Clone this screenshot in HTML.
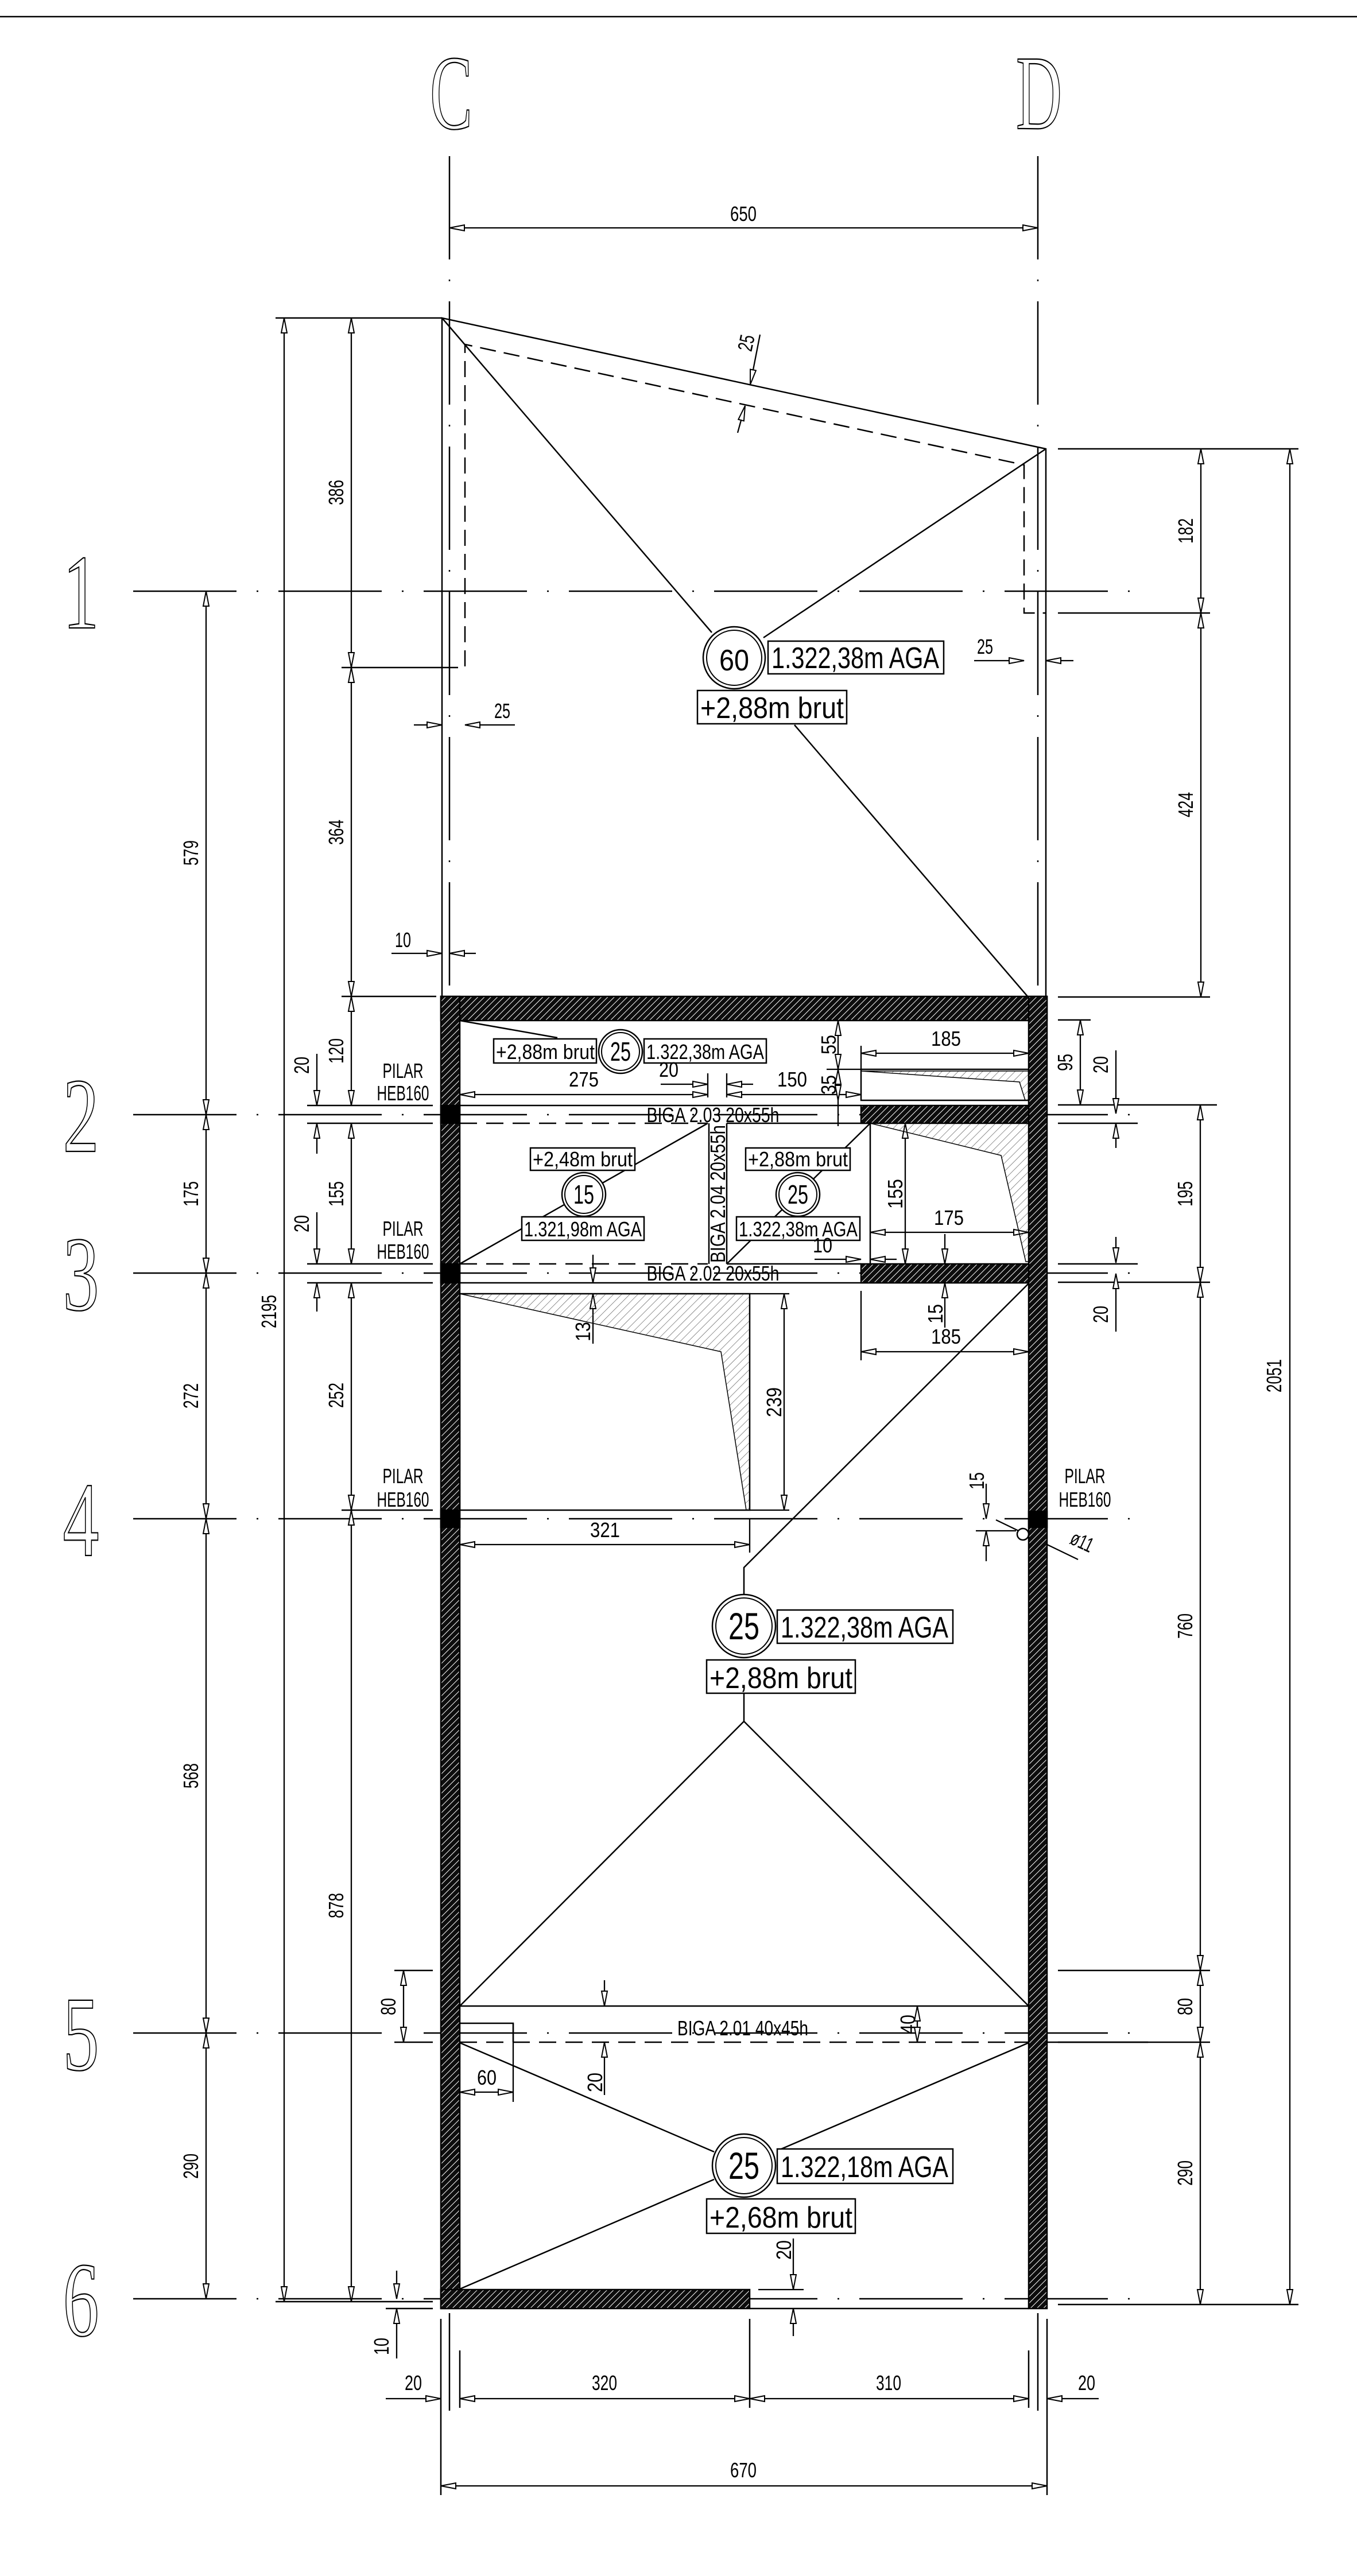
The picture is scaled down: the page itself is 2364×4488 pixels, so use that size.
<!DOCTYPE html>
<html><head><meta charset="utf-8"><style>
html,body{margin:0;padding:0;background:#fff}
svg{display:block}
text{font-family:"Liberation Sans",sans-serif;fill:#000}
.d{font-size:36px}
.s{font-size:34px}
.b{font-size:52px}
.m{font-size:36px}
.ax{font-family:"Liberation Serif",serif;font-size:185px;fill:#fff;stroke:#000;stroke-width:2.2}
</style></head><body>
<svg width="2364" height="4488" viewBox="0 0 2364 4488" xmlns="http://www.w3.org/2000/svg">
<defs>
<marker id="a" viewBox="-30 -8 32 16" refX="0" refY="0" markerWidth="32" markerHeight="16" markerUnits="userSpaceOnUse" orient="auto-start-reverse"><path d="M0,0 L-26,-5 L-26,5 Z" fill="#fff" stroke="#000" stroke-width="2"/></marker>
<pattern id="hd" width="8" height="8" patternUnits="userSpaceOnUse" patternTransform="rotate(45)"><rect width="8" height="8" fill="#0d0d0d"/><line x1="1" y1="0" x2="1" y2="8" stroke="#fff" stroke-width="1"/></pattern>
<pattern id="hl" width="10" height="10" patternUnits="userSpaceOnUse" patternTransform="rotate(45)"><line x1="0" y1="0" x2="0" y2="10" stroke="#555" stroke-width="1.3"/></pattern>
</defs>
<rect width="2364" height="4488" fill="#fff"/>
<line x1="0" y1="29" x2="2364" y2="29" stroke="#000" stroke-width="2.5"/>

<text class="ax" text-anchor="middle" transform="translate(786,224) scale(0.6,1)">C</text>
<text class="ax" text-anchor="middle" transform="translate(1810,224) scale(0.6,1)">D</text>
<text class="ax" text-anchor="middle" transform="translate(141,1094) scale(0.68,1)">1</text>
<text class="ax" text-anchor="middle" transform="translate(141,2006) scale(0.68,1)">2</text>
<text class="ax" text-anchor="middle" transform="translate(141,2282) scale(0.68,1)">3</text>
<text class="ax" text-anchor="middle" transform="translate(141,2710) scale(0.68,1)">4</text>
<text class="ax" text-anchor="middle" transform="translate(141,3606) scale(0.68,1)">5</text>
<text class="ax" text-anchor="middle" transform="translate(141,4069) scale(0.68,1)">6</text>

<g stroke="#000" stroke-width="2.5" stroke-dasharray="180 35 3 35" fill="none">
<line x1="232" y1="1030" x2="1990" y2="1030"/>
<line x1="232" y1="1942" x2="1990" y2="1942"/>
<line x1="232" y1="2218" x2="1990" y2="2218"/>
<line x1="232" y1="2646" x2="1990" y2="2646"/>
<line x1="232" y1="3542" x2="1990" y2="3542"/>
<line x1="232" y1="4005" x2="1990" y2="4005"/>
<line x1="783" y1="272" x2="783" y2="1736"/>
<line x1="1808" y1="272" x2="1808" y2="1736"/>
<line x1="783" y1="4030" x2="783" y2="4200"/>
<line x1="1808" y1="4030" x2="1808" y2="4200"/>
</g>

<g stroke="#000" stroke-width="2.5" fill="none">
<polyline points="770,1736 770,554 1822,782 1822,1736"/>
<polyline points="770,1163 810,1163 810,600 1784,810 1784,1068 1822,1068" stroke-dasharray="28 14"/>
<line x1="770" y1="554" x2="1240" y2="1102"/>
<line x1="1822" y1="782" x2="1330" y2="1111"/>
<line x1="1384" y1="1263" x2="1791" y2="1737"/>

<line x1="480" y1="554" x2="770" y2="554"/>
<line x1="595" y1="1163" x2="770" y2="1163"/>
<line x1="595" y1="1736" x2="760" y2="1736"/>
<line x1="535" y1="1926" x2="754" y2="1926"/>
<line x1="535" y1="1957" x2="754" y2="1957"/>
<line x1="535" y1="2202" x2="754" y2="2202"/>
<line x1="535" y1="2235" x2="754" y2="2235"/>
<line x1="595" y1="2631" x2="754" y2="2631"/>
<line x1="480" y1="4010" x2="754" y2="4010"/>
<line x1="687" y1="3433" x2="754" y2="3433"/>
<line x1="687" y1="3558" x2="754" y2="3558"/>
<line x1="672" y1="4022" x2="754" y2="4022"/>
<line x1="1843" y1="782" x2="2262" y2="782"/>
<line x1="1843" y1="1068" x2="2108" y2="1068"/>
<line x1="1843" y1="1737" x2="2108" y2="1737"/>
<line x1="1843" y1="1777" x2="1900" y2="1777"/>
<line x1="1843" y1="1925" x2="2120" y2="1925"/>
<line x1="1843" y1="1957" x2="1982" y2="1957"/>
<line x1="1843" y1="2202" x2="1982" y2="2202"/>
<line x1="1843" y1="2234" x2="2108" y2="2234"/>
<line x1="1843" y1="3433" x2="2108" y2="3433"/>
<line x1="1843" y1="3558" x2="2108" y2="3558"/>
<line x1="1843" y1="4015" x2="2262" y2="4015"/>
<line x1="768" y1="4040" x2="768" y2="4347"/>
<line x1="801" y1="4095" x2="801" y2="4195"/>
<line x1="1306" y1="4040" x2="1306" y2="4195"/>
<line x1="1792" y1="4095" x2="1792" y2="4195"/>
<line x1="1824" y1="4040" x2="1824" y2="4347"/>
</g>

<g stroke="#000" stroke-width="2.3" fill="none" marker-start="url(#a)" marker-end="url(#a)">
<line x1="783" y1="397" x2="1808" y2="397"/>
<line x1="359" y1="1030" x2="359" y2="1942"/>
<line x1="359" y1="1942" x2="359" y2="2218"/>
<line x1="359" y1="2218" x2="359" y2="2646"/>
<line x1="359" y1="2646" x2="359" y2="3542"/>
<line x1="359" y1="3542" x2="359" y2="4005"/>
<line x1="495" y1="554" x2="495" y2="4010"/>
<line x1="612" y1="554" x2="612" y2="1163"/>
<line x1="612" y1="1163" x2="612" y2="1736"/>
<line x1="612" y1="1736" x2="612" y2="1926"/>
<line x1="612" y1="1957" x2="612" y2="2202"/>
<line x1="612" y1="2235" x2="612" y2="2631"/>
<line x1="612" y1="2631" x2="612" y2="4010"/>
<line x1="703" y1="3433" x2="703" y2="3558"/>
<line x1="2092" y1="782" x2="2092" y2="1068"/>
<line x1="2092" y1="1068" x2="2092" y2="1737"/>
<line x1="1882" y1="1777" x2="1882" y2="1925"/>
<line x1="2091" y1="1925" x2="2091" y2="2234"/>
<line x1="2091" y1="2234" x2="2091" y2="3433"/>
<line x1="2091" y1="3433" x2="2091" y2="3558"/>
<line x1="2091" y1="3558" x2="2091" y2="4015"/>
<line x1="2247" y1="782" x2="2247" y2="4015"/>
<line x1="801" y1="4179" x2="1306" y2="4179"/>
<line x1="1306" y1="4179" x2="1792" y2="4179"/>
<line x1="768" y1="4331" x2="1824" y2="4331"/>
<line x1="801" y1="1907" x2="1233" y2="1907"/>
<line x1="1266" y1="1907" x2="1500" y2="1907"/>
<line x1="1460" y1="1778" x2="1460" y2="1863"/>
<line x1="1460" y1="1863" x2="1460" y2="1917"/>
<line x1="1500" y1="1835" x2="1792" y2="1835"/>
<line x1="1577" y1="1957" x2="1577" y2="2202"/>
<line x1="1516" y1="2147" x2="1792" y2="2147"/>
<line x1="1500" y1="2355" x2="1792" y2="2355"/>
<line x1="1366" y1="2254" x2="1366" y2="2631"/>
<line x1="801" y1="2691" x2="1306" y2="2691"/>
<line x1="801" y1="3645" x2="894" y2="3645"/>
<line x1="1598" y1="3495" x2="1598" y2="3558"/>
</g>
<g stroke="#000" stroke-width="2.3" fill="none" marker-end="url(#a)">
<line x1="552" y1="1836" x2="552" y2="1926"/>
<line x1="552" y1="2010" x2="552" y2="1957"/>
<line x1="552" y1="2112" x2="552" y2="2202"/>
<line x1="552" y1="2285" x2="552" y2="2235"/>
<line x1="691" y1="3956" x2="691" y2="4005"/>
<line x1="691" y1="4109" x2="691" y2="4022"/>
<line x1="1944" y1="1830" x2="1944" y2="1940"/>
<line x1="1944" y1="2000" x2="1944" y2="1957"/>
<line x1="1944" y1="2155" x2="1944" y2="2200"/>
<line x1="1944" y1="2320" x2="1944" y2="2219"/>
<line x1="672" y1="4179" x2="768" y2="4179"/>
<line x1="1914" y1="4179" x2="1824" y2="4179"/>
<line x1="721" y1="1263" x2="770" y2="1263"/>
<line x1="897" y1="1263" x2="810" y2="1263"/>
<line x1="1697" y1="1151" x2="1784" y2="1151"/>
<line x1="1870" y1="1151" x2="1822" y2="1151"/>
<line x1="682" y1="1661" x2="770" y2="1661"/>
<line x1="829" y1="1661" x2="783" y2="1661"/>
<line x1="1324" y1="583" x2="1307" y2="670"/>
<line x1="1285" y1="754" x2="1298" y2="707"/>
<line x1="1151" y1="1889" x2="1233" y2="1889"/>
<line x1="1312" y1="1889" x2="1266" y2="1889"/>
<line x1="1419" y1="2194" x2="1500" y2="2194"/>
<line x1="1562" y1="2194" x2="1516" y2="2194"/>
<line x1="1646" y1="2150" x2="1646" y2="2202"/>
<line x1="1646" y1="2313" x2="1646" y2="2235"/>
<line x1="1033" y1="2186" x2="1033" y2="2235"/>
<line x1="1033" y1="2341" x2="1033" y2="2254"/>
<line x1="1718" y1="2585" x2="1718" y2="2646"/>
<line x1="1718" y1="2720" x2="1718" y2="2667"/>
<line x1="1053" y1="3450" x2="1053" y2="3495"/>
<line x1="1053" y1="3650" x2="1053" y2="3558"/>
<line x1="1382" y1="3900" x2="1382" y2="3989"/>
<line x1="1382" y1="4070" x2="1382" y2="4022"/>
</g>
<g stroke="#000" stroke-width="2.3">
<line x1="1233" y1="1870" x2="1233" y2="1912"/>
<line x1="1266" y1="1870" x2="1266" y2="1912"/>
<line x1="1500" y1="1822" x2="1500" y2="1863"/>
<line x1="1440" y1="1863" x2="1500" y2="1863"/>
<line x1="1460" y1="1917" x2="1460" y2="1962"/>
<line x1="1500" y1="2249" x2="1500" y2="2370"/>
<line x1="1306" y1="2254" x2="1375" y2="2254"/>
<line x1="1306" y1="2631" x2="1375" y2="2631"/>
<line x1="1306" y1="2646" x2="1306" y2="2705"/>
<line x1="1700" y1="2667" x2="1770" y2="2667"/>
<line x1="894" y1="3525" x2="894" y2="3662"/>
<line x1="1321" y1="3989" x2="1400" y2="3989"/>
<line x1="1735" y1="2648" x2="1878" y2="2717"/>
</g>

<g stroke="#000" stroke-width="2.5" fill="none">
<line x1="801" y1="1926" x2="1500" y2="1926"/>
<line x1="801" y1="1957" x2="1233" y2="1957" stroke-dasharray="30 16"/>
<line x1="1266" y1="1957" x2="1516" y2="1957"/>
<line x1="801" y1="2202" x2="1233" y2="2202" stroke-dasharray="30 16"/>
<line x1="1266" y1="2202" x2="1500" y2="2202"/>
<line x1="801" y1="2235" x2="1792" y2="2235"/>
<line x1="1235" y1="1957" x2="1235" y2="2202"/>
<line x1="1266" y1="1957" x2="1266" y2="2202"/>
<line x1="1516" y1="1957" x2="1516" y2="2202"/>
<rect x="1500" y="1863" width="292" height="54"/>
<path d="M1500,1866 L1776,1885 L1786,1917 L1792,1917 L1792,1866 Z" fill="url(#hl)" stroke-width="1.5"/>
<path d="M1516,1957 L1744,2013 L1787,2198 L1792,2198 L1792,1957 Z" fill="url(#hl)" stroke-width="1.5"/>
<rect x="801" y="2254" width="505" height="377"/>
<path d="M801,2254 L1306,2254 L1306,2631 L1300,2631 L1256,2355 Z" fill="url(#hl)" stroke-width="1.5"/>
<line x1="801" y1="1778" x2="971" y2="1808"/>
<line x1="801" y1="2202" x2="1233" y2="1957"/>
<line x1="1266" y1="2202" x2="1516" y2="1957"/>
<polyline points="1792,2236 1296,2731 1296,2780"/>
<line x1="1296" y1="2950" x2="1296" y2="2999"/>
<polyline points="801,3495 1296,2999 1792,3495"/>
<line x1="801" y1="3495" x2="1792" y2="3495"/>
<line x1="801" y1="3558" x2="1792" y2="3558" stroke-dasharray="30 16"/>
<line x1="1792" y1="3558" x2="2000" y2="3558"/>
<polyline points="801,3525 894,3525 894,3558"/>
<line x1="801" y1="3559" x2="1244" y2="3749"/>
<line x1="1792" y1="3559" x2="1361" y2="3744"/>
<line x1="801" y1="3988" x2="1244" y2="3797"/>
<line x1="1306" y1="4022" x2="1792" y2="4022"/>
</g>

<g stroke="#000" stroke-width="2.5">
<rect x="768" y="1736" width="1056" height="42" fill="url(#hd)"/>
<rect x="768" y="1736" width="33" height="2286" fill="url(#hd)"/>
<rect x="1792" y="1736" width="32" height="2286" fill="url(#hd)"/>
<rect x="768" y="3989" width="538" height="33" fill="url(#hd)"/>
<rect x="1500" y="1926" width="292" height="31" fill="url(#hd)"/>
<rect x="1500" y="2202" width="292" height="33" fill="url(#hd)"/>
<rect x="768" y="1926" width="33" height="31" fill="#000"/>
<rect x="768" y="2202" width="33" height="33" fill="#000"/>
<rect x="768" y="2631" width="33" height="30" fill="#000"/>
<rect x="1792" y="2633" width="32" height="28" fill="#000"/>
</g>
<circle cx="1782" cy="2673" r="10" fill="#fff" stroke="#000" stroke-width="2.5"/>

<g stroke="#000" fill="#fff">
<circle cx="1279" cy="1146" r="54" stroke-width="2.5"/><circle cx="1279" cy="1146" r="48" stroke-width="2"/>
<rect x="1338" y="1117" width="306" height="57" stroke-width="2.5"/>
<rect x="1215" y="1203" width="260" height="58" stroke-width="2.5"/>
<circle cx="1081" cy="1832" r="38" stroke-width="2.5"/><circle cx="1081" cy="1832" r="33" stroke-width="2"/>
<rect x="860" y="1810" width="179" height="42" stroke-width="2.5"/>
<rect x="1122" y="1810" width="213" height="42" stroke-width="2.5"/>
<circle cx="1017" cy="2081" r="38" stroke-width="2.5"/><circle cx="1017" cy="2081" r="33" stroke-width="2"/>
<rect x="924" y="2000" width="182" height="39" stroke-width="2.5"/>
<rect x="909" y="2120" width="213" height="41" stroke-width="2.5"/>
<circle cx="1390" cy="2081" r="38" stroke-width="2.5"/><circle cx="1390" cy="2081" r="33" stroke-width="2"/>
<rect x="1299" y="2000" width="182" height="39" stroke-width="2.5"/>
<rect x="1283" y="2120" width="215" height="41" stroke-width="2.5"/>
<circle cx="1296" cy="2833" r="55" stroke-width="2.5"/><circle cx="1296" cy="2833" r="49" stroke-width="2"/>
<rect x="1354" y="2805" width="306" height="58" stroke-width="2.5"/>
<rect x="1231" y="2892" width="259" height="58" stroke-width="2.5"/>
<circle cx="1296" cy="3773" r="55" stroke-width="2.5"/><circle cx="1296" cy="3773" r="49" stroke-width="2"/>
<rect x="1354" y="3744" width="306" height="60" stroke-width="2.5"/>
<rect x="1231" y="3831" width="259" height="60" stroke-width="2.5"/>
</g>

<g>
<text class="b" x="1279" y="1168" text-anchor="middle" font-size="62" textLength="52" lengthAdjust="spacingAndGlyphs">60</text>
<text class="b" x="1344" y="1164" textLength="292" lengthAdjust="spacingAndGlyphs">1.322,38m AGA</text>
<text class="b" x="1220" y="1251" textLength="250" lengthAdjust="spacingAndGlyphs">+2,88m brut</text>
<text x="1081" y="1848" text-anchor="middle" font-size="46" textLength="36" lengthAdjust="spacingAndGlyphs">25</text>
<text class="m" x="864" y="1845" textLength="172" lengthAdjust="spacingAndGlyphs">+2,88m brut</text>
<text class="m" x="1126" y="1845" textLength="205" lengthAdjust="spacingAndGlyphs">1.322,38m AGA</text>
<text x="1017" y="2097" text-anchor="middle" font-size="46" textLength="36" lengthAdjust="spacingAndGlyphs">15</text>
<text class="m" x="928" y="2032" textLength="174" lengthAdjust="spacingAndGlyphs">+2,48m brut</text>
<text class="m" x="913" y="2154" textLength="205" lengthAdjust="spacingAndGlyphs">1.321,98m AGA</text>
<text x="1390" y="2097" text-anchor="middle" font-size="46" textLength="36" lengthAdjust="spacingAndGlyphs">25</text>
<text class="m" x="1303" y="2032" textLength="174" lengthAdjust="spacingAndGlyphs">+2,88m brut</text>
<text class="m" x="1287" y="2154" textLength="207" lengthAdjust="spacingAndGlyphs">1.322,38m AGA</text>
<text x="1296" y="2856" text-anchor="middle" font-size="66" textLength="54" lengthAdjust="spacingAndGlyphs">25</text>
<text class="b" x="1360" y="2853" textLength="292" lengthAdjust="spacingAndGlyphs">1.322,38m AGA</text>
<text class="b" x="1236" y="2941" textLength="249" lengthAdjust="spacingAndGlyphs">+2,88m brut</text>
<text x="1296" y="3796" text-anchor="middle" font-size="66" textLength="54" lengthAdjust="spacingAndGlyphs">25</text>
<text class="b" x="1360" y="3793" textLength="292" lengthAdjust="spacingAndGlyphs">1.322,18m AGA</text>
<text class="b" x="1236" y="3881" textLength="249" lengthAdjust="spacingAndGlyphs">+2,68m brut</text>
</g>

<g font-size="36">
<text x="1242" y="1955" text-anchor="middle" textLength="231" lengthAdjust="spacingAndGlyphs">BIGA 2.03  20x55h</text>
<text x="1242" y="2231" text-anchor="middle" textLength="231" lengthAdjust="spacingAndGlyphs">BIGA 2.02  20x55h</text>
<text x="1294" y="3546" text-anchor="middle" textLength="228" lengthAdjust="spacingAndGlyphs">BIGA 2.01  40x45h</text>
<text transform="translate(1263,2080) rotate(-90)" text-anchor="middle" textLength="240" lengthAdjust="spacingAndGlyphs">BIGA 2.04  20x55h</text>
</g>

<g font-size="36" text-anchor="middle">
<text x="702" y="1878" textLength="71" lengthAdjust="spacingAndGlyphs">PILAR</text>
<text x="702" y="1917" textLength="91" lengthAdjust="spacingAndGlyphs">HEB160</text>
<text x="702" y="2153" textLength="71" lengthAdjust="spacingAndGlyphs">PILAR</text>
<text x="702" y="2193" textLength="91" lengthAdjust="spacingAndGlyphs">HEB160</text>
<text x="702" y="2584" textLength="71" lengthAdjust="spacingAndGlyphs">PILAR</text>
<text x="702" y="2625" textLength="91" lengthAdjust="spacingAndGlyphs">HEB160</text>
<text x="1890" y="2584" textLength="71" lengthAdjust="spacingAndGlyphs">PILAR</text>
<text x="1890" y="2625" textLength="91" lengthAdjust="spacingAndGlyphs">HEB160</text>
</g>

<g class="d" text-anchor="middle">
<text x="1295" y="385" textLength="46" lengthAdjust="spacingAndGlyphs">650</text>
<text transform="translate(345,1486) rotate(-90)" textLength="44" lengthAdjust="spacingAndGlyphs">579</text>
<text transform="translate(345,2080) rotate(-90)" textLength="44" lengthAdjust="spacingAndGlyphs">175</text>
<text transform="translate(345,2432) rotate(-90)" textLength="44" lengthAdjust="spacingAndGlyphs">272</text>
<text transform="translate(345,3094) rotate(-90)" textLength="44" lengthAdjust="spacingAndGlyphs">568</text>
<text transform="translate(345,3774) rotate(-90)" textLength="44" lengthAdjust="spacingAndGlyphs">290</text>
<text transform="translate(481,2285) rotate(-90)" textLength="58" lengthAdjust="spacingAndGlyphs">2195</text>
<text transform="translate(598,858) rotate(-90)" textLength="44" lengthAdjust="spacingAndGlyphs">386</text>
<text transform="translate(598,1450) rotate(-90)" textLength="44" lengthAdjust="spacingAndGlyphs">364</text>
<text transform="translate(598,1831) rotate(-90)" textLength="44" lengthAdjust="spacingAndGlyphs">120</text>
<text transform="translate(598,2080) rotate(-90)" textLength="44" lengthAdjust="spacingAndGlyphs">155</text>
<text transform="translate(598,2431) rotate(-90)" textLength="44" lengthAdjust="spacingAndGlyphs">252</text>
<text transform="translate(598,3320) rotate(-90)" textLength="44" lengthAdjust="spacingAndGlyphs">878</text>
<text transform="translate(538,1856) rotate(-90)" textLength="30" lengthAdjust="spacingAndGlyphs">20</text>
<text transform="translate(538,2132) rotate(-90)" textLength="30" lengthAdjust="spacingAndGlyphs">20</text>
<text transform="translate(689,3496) rotate(-90)" textLength="30" lengthAdjust="spacingAndGlyphs">80</text>
<text transform="translate(677,4088) rotate(-90)" textLength="30" lengthAdjust="spacingAndGlyphs">10</text>
<text transform="translate(2078,925) rotate(-90)" textLength="44" lengthAdjust="spacingAndGlyphs">182</text>
<text transform="translate(2078,1402) rotate(-90)" textLength="44" lengthAdjust="spacingAndGlyphs">424</text>
<text transform="translate(1868,1851) rotate(-90)" textLength="30" lengthAdjust="spacingAndGlyphs">95</text>
<text transform="translate(1930,1855) rotate(-90)" textLength="30" lengthAdjust="spacingAndGlyphs">20</text>
<text transform="translate(1930,2290) rotate(-90)" textLength="30" lengthAdjust="spacingAndGlyphs">20</text>
<text transform="translate(2077,2080) rotate(-90)" textLength="44" lengthAdjust="spacingAndGlyphs">195</text>
<text transform="translate(2077,2833) rotate(-90)" textLength="44" lengthAdjust="spacingAndGlyphs">760</text>
<text transform="translate(2077,3496) rotate(-90)" textLength="30" lengthAdjust="spacingAndGlyphs">80</text>
<text transform="translate(2077,3786) rotate(-90)" textLength="44" lengthAdjust="spacingAndGlyphs">290</text>
<text transform="translate(2232,2397) rotate(-90)" textLength="58" lengthAdjust="spacingAndGlyphs">2051</text>
<text x="720" y="4164" textLength="30" lengthAdjust="spacingAndGlyphs">20</text>
<text x="1053" y="4164" textLength="44" lengthAdjust="spacingAndGlyphs">320</text>
<text x="1548" y="4164" textLength="44" lengthAdjust="spacingAndGlyphs">310</text>
<text x="1893" y="4164" textLength="30" lengthAdjust="spacingAndGlyphs">20</text>
<text x="1295" y="4316" textLength="46" lengthAdjust="spacingAndGlyphs">670</text>
<text x="875" y="1251" textLength="28" lengthAdjust="spacingAndGlyphs">25</text>
<text x="1716" y="1139" textLength="28" lengthAdjust="spacingAndGlyphs">25</text>
<text x="702" y="1650" textLength="28" lengthAdjust="spacingAndGlyphs">10</text>
<text transform="translate(1312,600) rotate(-78)" textLength="28" lengthAdjust="spacingAndGlyphs">25</text>
<text x="1017" y="1893" textLength="52" lengthAdjust="spacingAndGlyphs">275</text>
<text x="1165" y="1876" textLength="34" lengthAdjust="spacingAndGlyphs">20</text>
<text x="1380" y="1893" textLength="52" lengthAdjust="spacingAndGlyphs">150</text>
<text transform="translate(1456,1820) rotate(-90)" textLength="34" lengthAdjust="spacingAndGlyphs">55</text>
<text transform="translate(1456,1890) rotate(-90)" textLength="34" lengthAdjust="spacingAndGlyphs">35</text>
<text x="1648" y="1822" textLength="52" lengthAdjust="spacingAndGlyphs">185</text>
<text transform="translate(1572,2080) rotate(-90)" textLength="52" lengthAdjust="spacingAndGlyphs">155</text>
<text x="1653" y="2134" textLength="52" lengthAdjust="spacingAndGlyphs">175</text>
<text x="1433" y="2182" textLength="34" lengthAdjust="spacingAndGlyphs">10</text>
<text transform="translate(1642,2289) rotate(-90)" textLength="34" lengthAdjust="spacingAndGlyphs">15</text>
<text x="1648" y="2341" textLength="52" lengthAdjust="spacingAndGlyphs">185</text>
<text transform="translate(1028,2320) rotate(-90)" textLength="34" lengthAdjust="spacingAndGlyphs">13</text>
<text transform="translate(1361,2443) rotate(-90)" textLength="52" lengthAdjust="spacingAndGlyphs">239</text>
<text x="1054" y="2678" textLength="52" lengthAdjust="spacingAndGlyphs">321</text>
<text transform="translate(1714,2580) rotate(-90)" textLength="30" lengthAdjust="spacingAndGlyphs">15</text>
<text transform="translate(1880,2697) rotate(25)" textLength="40" lengthAdjust="spacingAndGlyphs">ø11</text>
<text x="848" y="3632" textLength="34" lengthAdjust="spacingAndGlyphs">60</text>
<text transform="translate(1049,3628) rotate(-90)" textLength="34" lengthAdjust="spacingAndGlyphs">20</text>
<text transform="translate(1594,3527) rotate(-90)" textLength="34" lengthAdjust="spacingAndGlyphs">40</text>
<text transform="translate(1378,3920) rotate(-90)" textLength="34" lengthAdjust="spacingAndGlyphs">20</text>
</g>
</svg>
</body></html>
